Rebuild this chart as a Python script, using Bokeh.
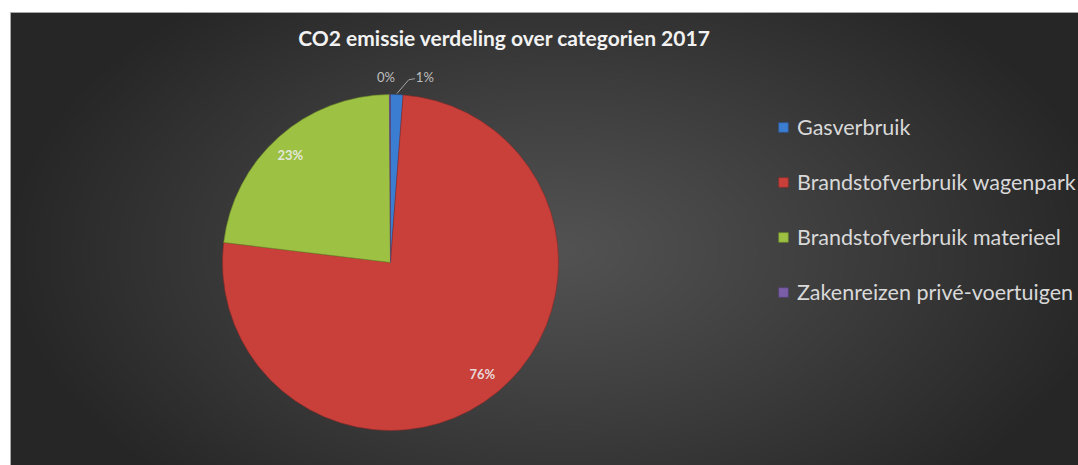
import numpy as np
from bokeh.plotting import figure
from bokeh.models import Range1d, Legend, LegendItem, Label, ColumnDataSource
from bokeh.embed import file_html
from bokeh.resources import INLINE

# ---------------- data ----------------
categories = ["Gasverbruik", "Brandstofverbruik wagenpark",
              "Brandstofverbruik materieel", "Zakenreizen privé-voertuigen"]
values = [1.2, 75.7, 23.0, 0.1]
title_text = "CO2 emissie verdeling over categorien 2017"

# ---------------- style ----------------
colors = ["#3b7dd0", "#c9403b", "#9dc143", "#7b5ea8"]
edge_colors = ["#2a5a99", "#8e2a27", "#6e8a2c", "#55407a"]
W, H = 1078, 465
CX, CY, R = 390, H - 262, 168
FONT = "Lato"

p = figure(width=W, height=H, x_range=Range1d(0, W), y_range=Range1d(0, H),
           output_backend="svg", toolbar_location=None, min_border=0)
p.axis.visible = False
p.grid.visible = False
p.outline_line_color = None
p.background_fill_color = "white"
p.border_fill_color = "white"

# background radial gradient of the chart area
L, T = 10, H - 12
gw, gh = 534, 227
px = np.linspace(L, W, gw)
py = H - np.linspace(0, T, gh)          # row 0 at bottom
PX, PY = np.meshgrid(px, py)
t = np.sqrt(((PX - 560) / 560) ** 2 + ((PY - 250) / 330) ** 2)
t = np.clip(t, 0, 1) ** 1.1
c0 = np.array([0x52, 0x52, 0x52], float)
c1 = np.array([0x26, 0x26, 0x26], float)
img = np.empty((gh, gw), dtype=np.uint32)
view = img.view(dtype=np.uint8).reshape((gh, gw, 4))
for k in range(3):
    view[:, :, k] = (c0[k] + (c1[k] - c0[k]) * t).astype(np.uint8)
view[:, :, 3] = 255
p.image_rgba(image=[img], x=L, y=0, dw=W - L, dh=T)
p.quad(left=[L], right=[W], bottom=[0], top=[T], fill_alpha=0,
       line_color="#a8a8a8", line_width=1)

# pie wedges
vals = np.array(values, float)
frac = vals / vals.sum()
cum = np.concatenate([[0], np.cumsum(frac)])
start = np.pi / 2 - 2 * np.pi * cum[:-1]
end = np.pi / 2 - 2 * np.pi * cum[1:]
src = ColumnDataSource(dict(cat=categories, start=start, end=end,
                            color=colors, edge=edge_colors))
r = p.wedge(x=CX, y=CY, radius=R, start_angle="start", end_angle="end",
            direction="clock", fill_color="color", line_color="edge",
            line_width=1, line_alpha=0.6, source=src)

# labels
pct = [f"{round(f * 100):.0f}%" for f in frac]
mid = (start + end) / 2
for i, (lab, a, f) in enumerate(zip(pct, mid, frac)):
    if f >= 0.05:
        lx = CX + 0.86 * R * np.cos(a)
        ly = CY + 0.86 * R * np.sin(a)
        p.text(x=[lx - (4 if np.cos(a) < 0 else 0)], y=[ly], text=[lab],
               text_align="center", text_baseline="middle",
               text_color="#ececec", text_font={"value": FONT},
               text_font_size="13px", text_font_style="bold", text_alpha=0.9)
    else:
        ex = CX + R * np.cos(a)
        ey = CY + R * np.sin(a)
        ly = CY + 1.1 * R + 1
        if i == 0:
            lx = ex + 28
            p.line(x=[ex, lx - 16, lx - 10], y=[ey + 1, ly - 3, ly - 2],
                   line_color="#a6a6a6", line_width=1)
        else:
            lx = ex - 4
        p.text(x=[lx], y=[ly], text=[lab], text_align="center",
               text_baseline="middle", text_color="#bfbfbf",
               text_font={"value": FONT}, text_font_size="13px")

# title
p.add_layout(Label(x=504, y=H - 37, text=title_text, text_align="center",
                   text_baseline="middle", text_color="#f2f2f2",
                   text_font=FONT, text_font_size="21px",
                   text_font_style="bold"))

# legend
items = [LegendItem(label=c, renderers=[r], index=i)
         for i, c in enumerate(categories)]
leg = Legend(items=items, location=(777, 160), orientation="vertical",
             background_fill_alpha=0, border_line_alpha=0,
             label_text_color="#d9d9d9", label_text_font=FONT,
             label_text_font_size="21.5px", glyph_width=12, glyph_height=12,
             label_height=20, spacing=29, padding=0, margin=0,
             label_standoff=8)
p.add_layout(leg)

open("out.html", "w").write(file_html(p, INLINE))
